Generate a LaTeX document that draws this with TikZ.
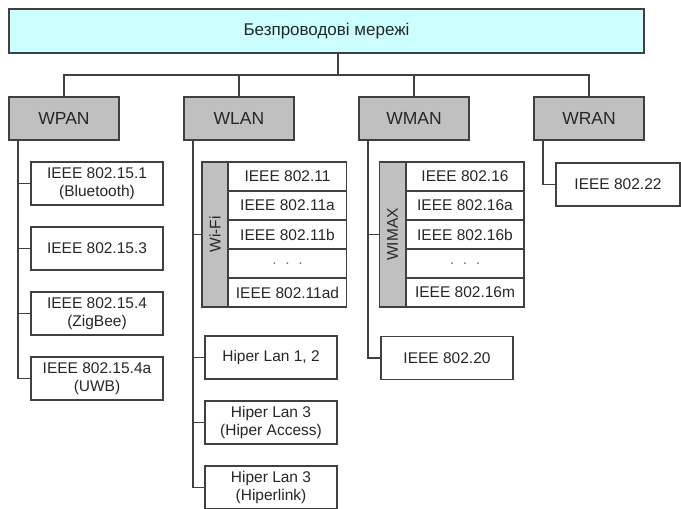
\documentclass[tikz,border=0pt]{standalone}
\usepackage{fontspec}
\setmainfont{Liberation Sans}
\usetikzlibrary{positioning,calc}
\definecolor{netCyan}{RGB}{204,255,255}
\definecolor{grpGray}{RGB}{192,192,192}
\definecolor{lineGray}{RGB}{64,64,64}

\begin{document}
\begin{tikzpicture}[
    x=1pt, y=1pt,
    box/.style={draw=lineGray, line width=1.2pt, outer sep=0pt, inner sep=0pt, minimum height=43pt, align=center, text=black!85, font=\fontsize{15.5}{17.5}\selectfont},
    grp/.style={box, fill=grpGray, minimum width=110pt, font=\fontsize{17.5}{20}\selectfont},
    std/.style={box, minimum width=132pt},
    cell/.style={box, minimum width=118pt, minimum height=29pt},
    bar/.style={box, fill=grpGray, minimum width=145pt, minimum height=26pt, rotate=90},
    link/.style={draw=lineGray, line width=1.2pt},
]
\useasboundingbox (0,0) rectangle (681,509);

% Root and groups
\node[box, fill=netCyan, minimum width=635pt, minimum height=44pt, font=\fontsize{17}{20}\selectfont] (root) at (326.5,478) {Безпроводові мережі};
\node[grp] (wpan) at (64,390.5) {WPAN};
\node[grp] (wlan) at (239,390.5) {WLAN};
\node[grp] (wman) at (414,390.5) {WMAN};
\node[grp] (wran) at (589,390.5) {WRAN};

% WPAN column
\node[std] (bt) at (97,325.5) {IEEE 802.15.1\\(Bluetooth)};
\node[std, below=22pt of bt] (uwbThree) {IEEE 802.15.3};
\node[std, below=22pt of uwbThree] (zig) {IEEE 802.15.4\\(ZigBee)};
\node[std, below=22pt of zig] (uwb) {IEEE 802.15.4a\\(UWB)};

% WLAN column
\node[bar] (wifi) at (215,274.5) {Wi-Fi};
\node[cell, anchor=north west] (w1) at (228.5,347) {IEEE 802.11};
\node[cell, below=0pt of w1] (w2) {IEEE 802.11a};
\node[cell, below=0pt of w2] (w3) {IEEE 802.11b};
\node[cell, below=0pt of w3, text=black!55] (w4) {.\ \ .\ \ .};
\node[cell, below=0pt of w4] (w5) {IEEE 802.11ad};
\node[std] (hl1) at (271,151.5) {Hiper Lan 1, 2};
\node[std, below=22pt of hl1] (hl2) {Hiper Lan 3\\(Hiper Access)};
\node[std, below=22pt of hl2] (hl3) {Hiper Lan 3\\(Hiperlink)};

% WMAN column
\node[bar] (wimax) at (392.5,274.5) {WIMAX};
\node[cell, anchor=north west] (m1) at (406,347) {IEEE 802.16};
\node[cell, below=0pt of m1] (m2) {IEEE 802.16a};
\node[cell, below=0pt of m2] (m3) {IEEE 802.16b};
\node[cell, below=0pt of m3, text=black!55] (m4) {.\ \ .\ \ .};
\node[cell, below=0pt of m4] (m5) {IEEE 802.16m};
\node[std] (mbwa) at (447,151) {IEEE 802.20};

% WRAN column
\node[box, minimum width=124pt] (wrn) at (618,324.5) {IEEE 802.22};

% Tree links
\coordinate (hub) at (338,434);
\draw[link] (root.south -| hub) -- (hub);
\draw[link] (wpan.north) -- (wpan.north |- hub) -- (wran.north |- hub) -- (wran.north);
\draw[link] (wlan.north) -- (wlan.north |- hub);
\draw[link] (wman.north) -- (wman.north |- hub);

% Drop lines
\coordinate (wpanL) at ($(wpan.south west)+(9,0)$);
\coordinate (wlanL) at ($(wlan.south west)+(9,0)$);
\coordinate (wmanL) at ($(wman.south west)+(9,0)$);
\coordinate (wranL) at ($(wran.south west)+(9,0)$);
\draw[link] (wpanL) |- (uwb.west);
\draw[link] (wpanL |- bt.west) -- (bt.west);
\draw[link] (wpanL |- uwbThree.west) -- (uwbThree.west);
\draw[link] (wpanL |- zig.west) -- (zig.west);
\draw[link] (wlanL) |- (hl3.west);
\draw[link] (wlanL |- wifi.center) -- (wifi.north);
\draw[link] (wlanL |- hl1.west) -- (hl1.west);
\draw[link] (wlanL |- hl2.west) -- (hl2.west);
\draw[link] (wmanL) |- (mbwa.west);
\draw[link] (wmanL |- wimax.center) -- (wimax.north);
\draw[link] (wranL) |- (wrn.west);
\end{tikzpicture}
\end{document}
